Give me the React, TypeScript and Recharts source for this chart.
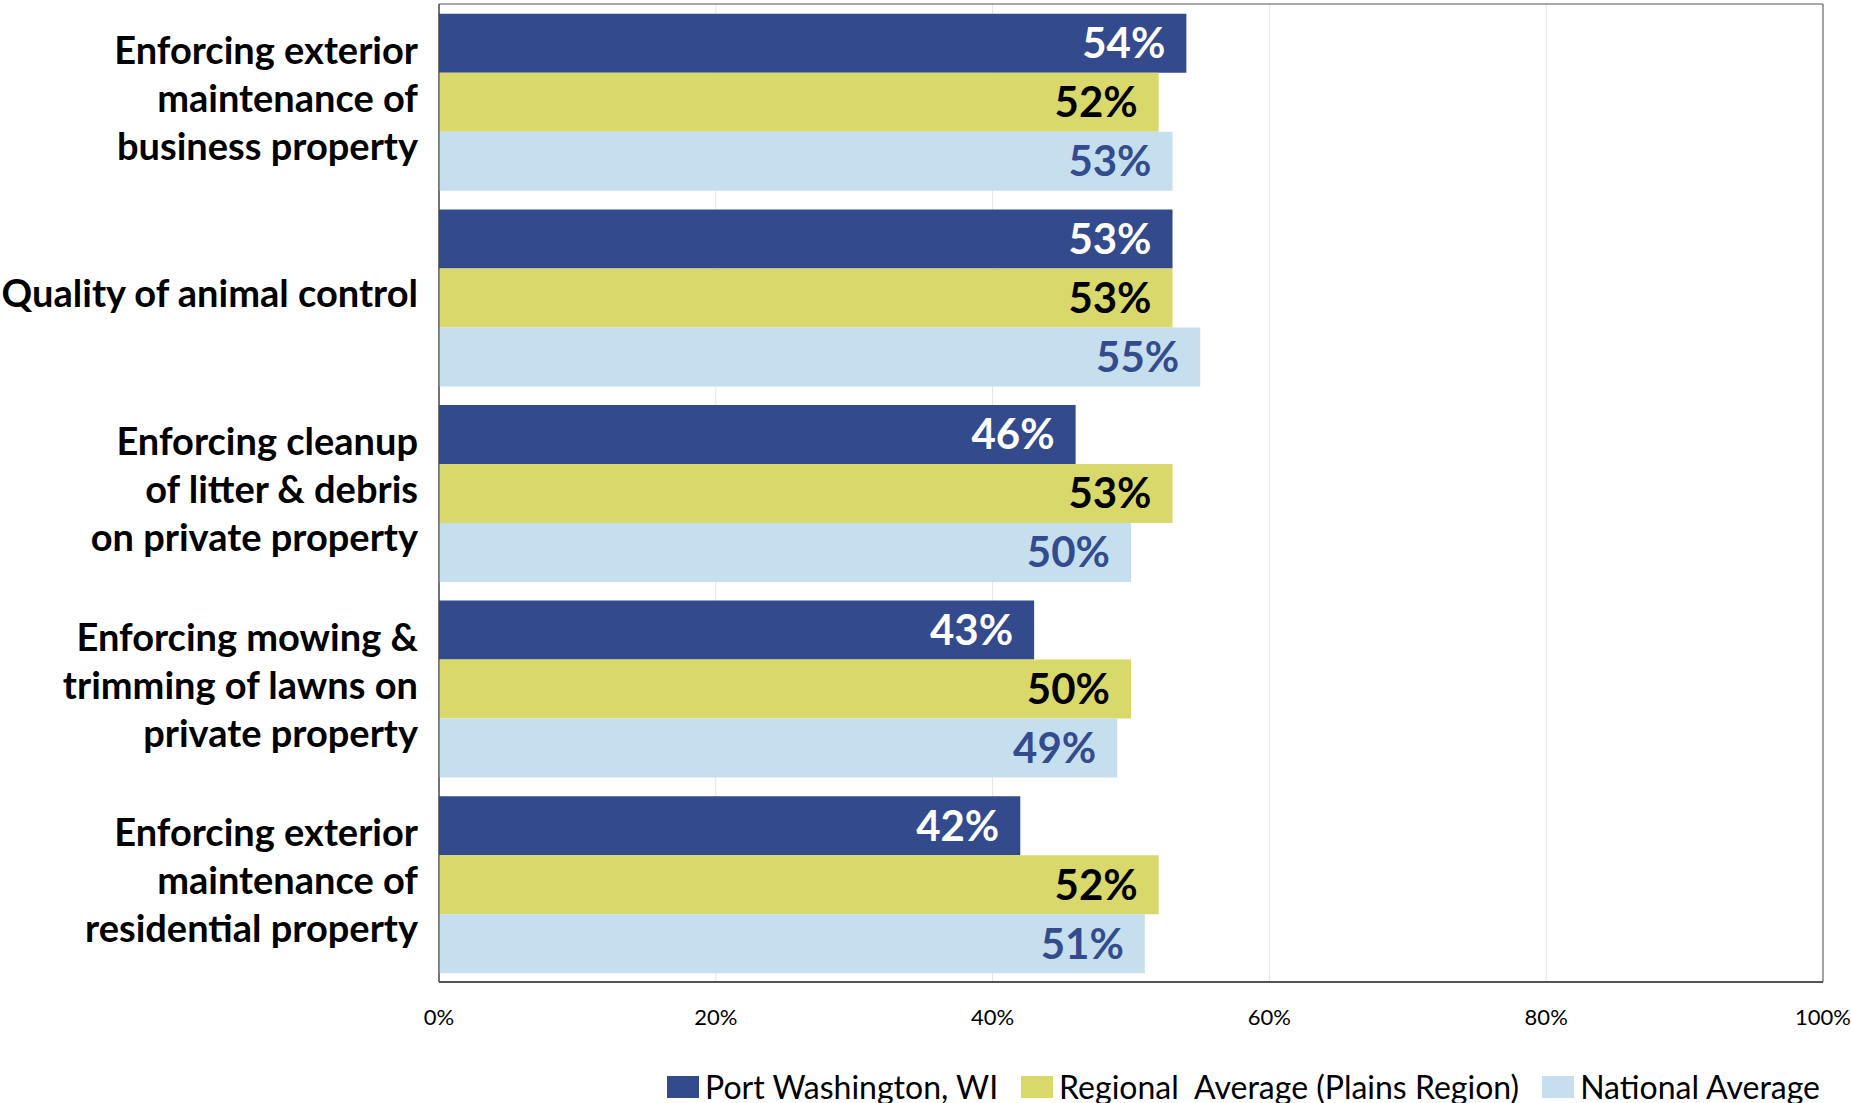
import React from "react";
import {
  Bar,
  BarChart,
  CartesianGrid,
  LabelList,
  Legend,
  ReferenceArea,
  XAxis,
  YAxis
} from "recharts";

const categories = [
  ["Enforcing exterior", "maintenance of", "business property"],
  ["Quality of animal control"],
  ["Enforcing cleanup", "of litter & debris", "on private property"],
  ["Enforcing mowing &", "trimming of lawns on", "private property"],
  ["Enforcing exterior", "maintenance of", "residential property"]
];

const portWashington = [54, 53, 46, 43, 42];
const regionalAverage = [52, 53, 53, 50, 52];
const nationalAverage = [53, 55, 50, 49, 51];

const xTicks = [0, 20, 40, 60, 80, 100];

const seriesNames = [
  "Port Washington, WI",
  "Regional  Average (Plains Region)",
  "National Average"
];

const FONT = "Lato, 'Open Sans', sans-serif";
const DARK = "#334a8c";
const YELLOW = "#d9d86b";
const LIGHT = "#c6dfee";

const data = categories.map((lines, i) => ({
  name: lines.join("\n"),
  port: portWashington[i],
  regional: regionalAverage[i],
  national: nationalAverage[i]
}));

const legendColors = [DARK, YELLOW, LIGHT];

function CategoryTick(props: any) {
  const { x, y, payload } = props;
  const lines: string[] = String(payload.value).split("\n");
  const lineHeight = 48;
  const start = -((lines.length - 1) / 2) * lineHeight + 10;
  return (
    <text
      x={x}
      y={y}
      textAnchor="end"
      fill="#000"
      fontFamily={FONT}
      fontWeight={700}
      fontSize={38}
    >
      {lines.map((line, i) => (
        <tspan key={i} x={x} y={y + start + i * lineHeight}>
          {line}
        </tspan>
      ))}
    </text>
  );
}

function LegendContent() {
  return (
    <div
      style={{
        height: 30,
        display: "flex",
        justifyContent: "flex-end",
        alignItems: "center",
        paddingRight: 3,
        fontFamily: FONT,
        fontSize: 32,
        color: "#000",
        whiteSpace: "pre",
        lineHeight: "30px"
      }}
    >
      {seriesNames.map((name, i) => (
        <div
          key={name}
          style={{ display: "flex", alignItems: "center", marginLeft: i ? 23 : 0 }}
        >
          <span
            style={{
              display: "inline-block",
              width: 32,
              height: 22,
              background: legendColors[i],
              marginRight: 6
            }}
          />
          <span>{name}</span>
        </div>
      ))}
    </div>
  );
}

export default function App() {
  const labelStyle = { fontFamily: FONT, fontWeight: 700, fontSize: 42 };
  return (
    <div style={{ position: "absolute", left: 0, top: 0, background: "#fff" }}>
      <BarChart
        width={1851}
        height={1103}
        data={data}
        layout="vertical"
        margin={{ top: 4, right: 28, bottom: 1, left: 0 }}
        barCategoryGap="5%"
        barGap={0}
      >
        <CartesianGrid horizontal={false} stroke="#e3e3e3" />
        <XAxis
          type="number"
          domain={[0, 100]}
          ticks={xTicks}
          tickFormatter={(v: number) => `${v}%`}
          height={90}
          tickSize={0}
          tickMargin={27}
          tickLine={false}
          axisLine={{ stroke: "#555", strokeWidth: 2 }}
          tick={{ fill: "#000", fontSize: 22, fontFamily: FONT }}
          interval={0}
        />
        <YAxis
          type="category"
          dataKey="name"
          width={439}
          tickSize={0}
          tickMargin={21}
          tickLine={false}
          axisLine={{ stroke: "#444" }}
          tick={<CategoryTick />}
          interval={0}
        />
        <Legend verticalAlign="bottom" content={<LegendContent />} />
        <Bar dataKey="port" name={seriesNames[0]} fill={DARK} isAnimationActive={false}>
          <LabelList
            dataKey="port"
            position="insideRight"
            offset={21}
            fill="#fff"
            formatter={(v: any) => `${v}%`}
            style={labelStyle}
          />
        </Bar>
        <Bar dataKey="regional" name={seriesNames[1]} fill={YELLOW} isAnimationActive={false}>
          <LabelList
            dataKey="regional"
            position="insideRight"
            offset={21}
            fill="#000"
            formatter={(v: any) => `${v}%`}
            style={labelStyle}
          />
        </Bar>
        <Bar dataKey="national" name={seriesNames[2]} fill={LIGHT} isAnimationActive={false}>
          <LabelList
            dataKey="national"
            position="insideRight"
            offset={21}
            fill="#344b8e"
            formatter={(v: any) => `${v}%`}
            style={labelStyle}
          />
        </Bar>
        <ReferenceArea x1={0} x2={100} fill="none" stroke="#555" strokeWidth={1} ifOverflow="visible" />
      </BarChart>
    </div>
  );
}
